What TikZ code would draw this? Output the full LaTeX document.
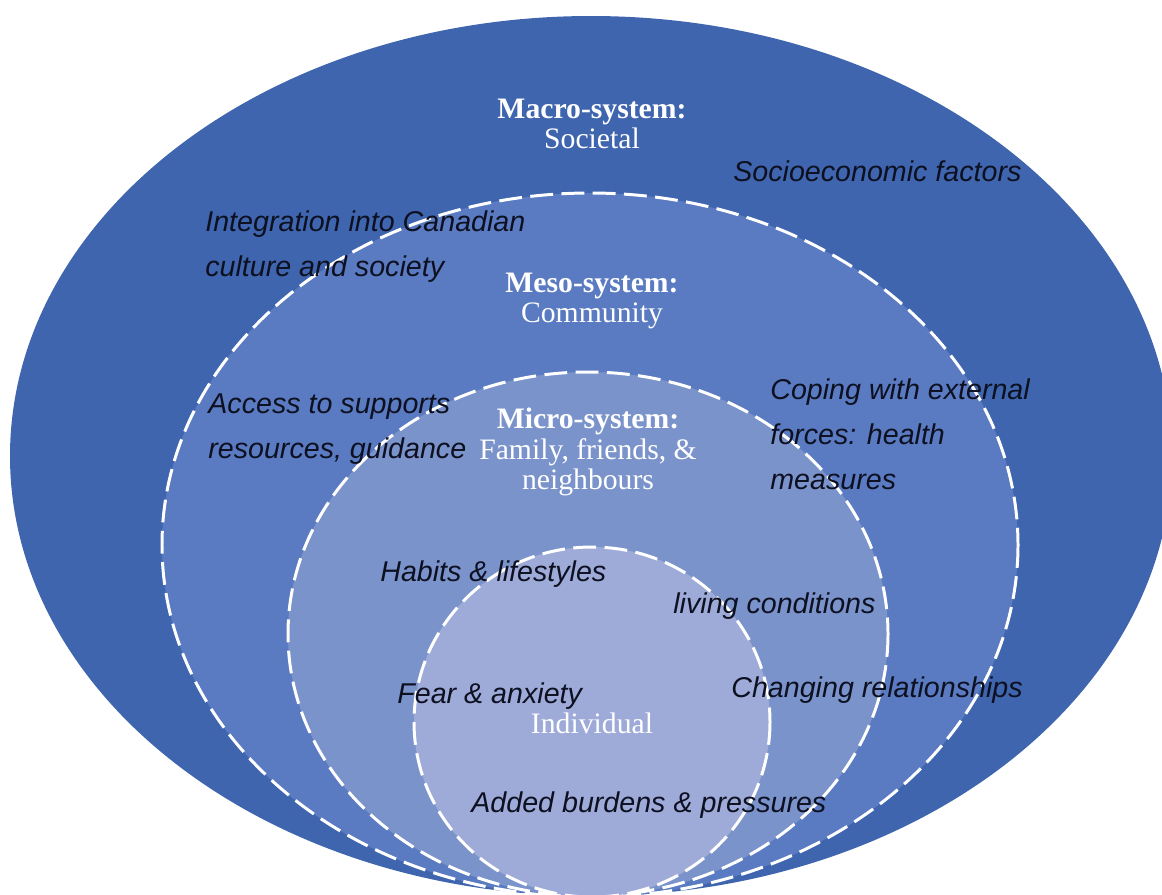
\documentclass[tikz,border=0pt]{standalone}
\usepackage{fontspec}
\setmainfont{Liberation Serif}
\setsansfont{Liberation Sans}
\usetikzlibrary{positioning}
\definecolor{Macro}{HTML}{3E65AE}
\definecolor{Meso}{HTML}{5A7BC1}
\definecolor{Micro}{HTML}{7B93CB}
\definecolor{Indiv}{HTML}{9EABD8}
\definecolor{Ink}{HTML}{0D1020}
\begin{document}
\begin{tikzpicture}[
  x=0.02cm,y=-0.02cm,
  ring/.style={draw=white,line width=1.7pt,dash pattern=on 13pt off 4.8pt},
  title/.style={text=white,align=center,inner sep=0pt,font=\fontsize{16.9}{17.3}\selectfont},
  factor/.style={anchor=west,align=left,inner sep=0pt,text=Ink,font=\fontsize{16.3}{25.6}\selectfont\sffamily\itshape}
]
\useasboundingbox (0,0) rectangle (1162,894);
\clip (0,0) rectangle (1162,894);
\fill[Macro] (591,456) ellipse [x radius=581,y radius=440];
\draw[ring,fill=Meso] (590,545) ellipse [x radius=428,y radius=352];
\draw[ring,fill=Micro] (588,634) ellipse [x radius=300,y radius=262];
\draw[ring,fill=Indiv] (592,722) ellipse [x radius=178,y radius=175];
\node[title] (macro) at (592,124) {\textbf{Macro-system:}\\Societal};
\node[title] (meso) at (592,301) {\textbf{Meso-system:}\\Community};
\node[title] (micro) at (588,452) {\textbf{Micro-system:}\\Family, friends, \&\\neighbours};
\node[title] (indiv) at (592,723) {Individual};
\node[factor] (socio) at (733,171) {Socioeconomic factors};
\node[factor] (integ) at (205,247) {Integration into Canadian\\culture and society};
\node[factor] (access) at (208,429) {Access to supports\\resources, guidance};
\node[factor] (coping) at (770,434) {Coping with external\\forces: health\\measures};
\node[factor] (habits) at (380,574) {Habits \& lifestyles};
\node[factor] (living) at (673,606) {living conditions};
\node[factor] (fear) at (397,696) {Fear \& anxiety};
\node[factor] (changing) at (731,690) {Changing relationships};
\node[factor] (burdens) at (471,805) {Added burdens \& pressures};
\end{tikzpicture}
\end{document}
